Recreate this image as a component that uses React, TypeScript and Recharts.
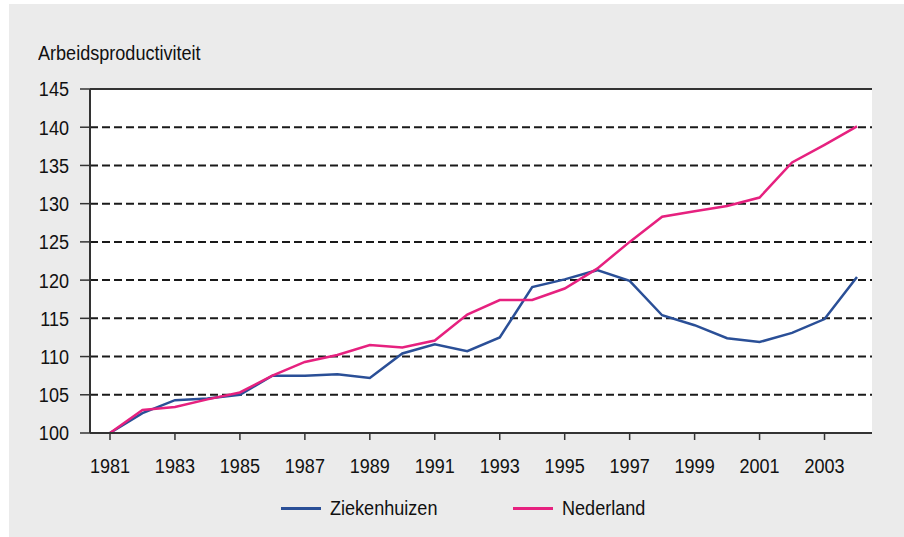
import { LineChart, Line, XAxis, YAxis, CartesianGrid, ReferenceLine } from "recharts";

const years = [
  "1981", "1982", "1983", "1984", "1985", "1986", "1987", "1988", "1989", "1990", "1991", "1992",
  "1993", "1994", "1995", "1996", "1997", "1998", "1999", "2000", "2001", "2002", "2003", "2004",
];
const ziekenhuizen = [
  100, 102.6, 104.3, 104.5, 105.0, 107.5, 107.5, 107.7, 107.2, 110.4, 111.6, 110.7,
  112.5, 119.1, 120.1, 121.3, 119.9, 115.4, 114.1, 112.4, 111.9, 113.1, 114.9, 120.4,
];
const nederland = [
  100, 103.0, 103.4, 104.4, 105.3, 107.5, 109.3, 110.2, 111.5, 111.2, 112.1, 115.5,
  117.4, 117.4, 118.9, 121.5, 125.0, 128.3, 129.0, 129.7, 130.8, 135.4, 137.7, 140.1,
];
const yTicks = [100, 105, 110, 115, 120, 125, 130, 135, 140, 145];

const series = [
  { key: "ziekenhuizen", name: "Ziekenhuizen", color: "#2a4f97" },
  { key: "nederland", name: "Nederland", color: "#e6217f" },
];

const data = years.map((year, i) => ({
  year,
  ziekenhuizen: ziekenhuizen[i],
  nederland: nederland[i],
}));

const font = "'Liberation Sans', Arial, sans-serif";
const axisColor = "#333333";
const squeeze = 0.86;
const fontSize = 21;

// text squeezed horizontally to mimic Arial Narrow
const XTick = ({ x, y, payload }: any) => (
  <g transform={`translate(${x},${y})`}>
    <text transform={`scale(${squeeze},1)`} textAnchor="middle" dy="0.71em" fill="#111" fontSize={fontSize} fontFamily={font}>
      {payload.value}
    </text>
  </g>
);

const YTick = ({ x, y, payload }: any) => (
  <g transform={`translate(${x},${y})`}>
    <text transform={`scale(${squeeze},1)`} textAnchor="end" dy="0.355em" fill="#111" fontSize={fontSize} fontFamily={font}>
      {payload.value}
    </text>
  </g>
);

const narrowText: React.CSSProperties = {
  position: "absolute",
  fontFamily: font,
  fontSize,
  color: "#111",
  lineHeight: "24px",
  whiteSpace: "nowrap",
  transform: `scaleX(${squeeze})`,
  transformOrigin: "left center",
};

const legendPos = [
  { lineLeft: 272, textLeft: 321 },
  { lineLeft: 504, textLeft: 553 },
];

export default function App() {
  return (
    <div style={{ position: "absolute", left: 0, top: 0, width: 904, height: 537, background: "#fff" }}>
      <div style={{ position: "absolute", left: 9, top: 4, width: 895, height: 533, background: "#ebebeb" }}>
        <div style={{ ...narrowText, left: 29, top: 37 }}>Arbeidsproductiviteit</div>
        <LineChart width={895} height={533} data={data} margin={{ top: 85, right: 32, bottom: 64, left: 0 }}>
          <CartesianGrid vertical={false} fill="#ffffff" stroke="#1a1a1a" strokeWidth={2} strokeDasharray="8 4" />
          <XAxis
            dataKey="year"
            interval={1}
            padding={{ left: 20, right: 15 }}
            axisLine={{ stroke: axisColor, strokeWidth: 2 }}
            tickLine={{ stroke: axisColor, strokeWidth: 1.5 }}
            tickSize={7}
            tickMargin={18}
            tick={<XTick />}
            height={40}
          />
          <XAxis xAxisId="top" orientation="top" dataKey="year" tick={false} tickLine={false} height={0} axisLine={{ stroke: axisColor, strokeWidth: 2 }} />
          <YAxis
            domain={[100, 145]}
            ticks={yTicks}
            interval={0}
            width={81}
            axisLine={{ stroke: axisColor, strokeWidth: 2 }}
            tickLine={{ stroke: axisColor, strokeWidth: 1.5 }}
            tickSize={10}
            tickMargin={11}
            tick={<YTick />}
          />
          <YAxis yAxisId="right" orientation="right" domain={[100, 145]} tick={false} tickLine={false} width={0} axisLine={{ stroke: axisColor, strokeWidth: 2 }} />
          <ReferenceLine y={145} stroke={axisColor} strokeWidth={2} />
          {series.map((s) => (
            <Line
              key={s.key}
              type="linear"
              dataKey={s.key}
              name={s.name}
              stroke={s.color}
              strokeWidth={2.5}
              dot={false}
              isAnimationActive={false}
            />
          ))}
        </LineChart>
        {series.map((s, i) => (
          <div key={s.key}>
            <div style={{ position: "absolute", left: legendPos[i].lineLeft, top: 503, width: 40, height: 3, background: s.color }} />
            <div style={{ ...narrowText, left: legendPos[i].textLeft, top: 492 }}>{s.name}</div>
          </div>
        ))}
      </div>
    </div>
  );
}
